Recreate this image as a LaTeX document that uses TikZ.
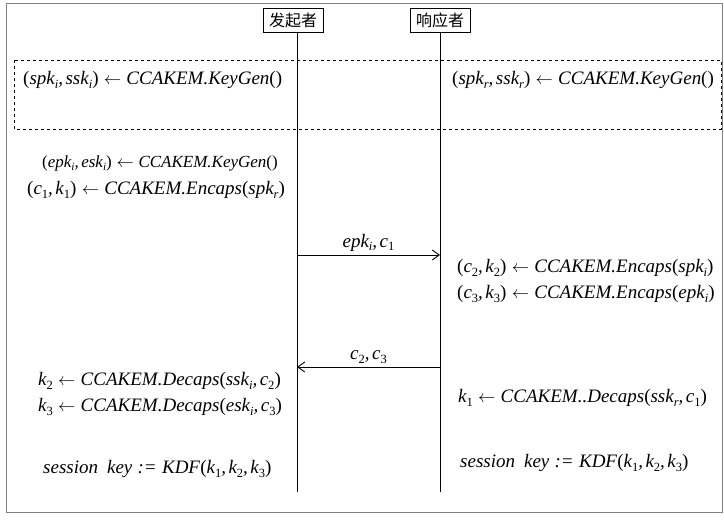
\documentclass[tikz,border=0pt]{standalone}
\usepackage{fontspec}
\setmainfont{Liberation Serif}
\newfontfamily\cjk{Noto Sans CJK SC}
\usetikzlibrary{arrows.meta}
\newcommand\lsub[1]{\raisebox{-0.4ex}{\fontsize{0.66\dimexpr\fsz\relax}{10}\selectfont#1}}
\newcommand\usub[1]{\lsub{\upshape#1}}
\newcommand\arr{\;$\leftarrow$\;}
\newcommand\lp{\textup{(}}
\newcommand\rp{\textup{)}}
\newcommand\cm{,\kern2.5pt}
\def\fsz{19pt}
\tikzset{
  actor/.style={draw,line width=0.9pt,inner xsep=6pt,inner ysep=0pt,minimum height=24pt,font=\cjk\fontsize{16}{18}\selectfont},
  life/.style={line width=1pt},
  msg/.style={line width=0.9pt,-{Straight Barb[length=7pt,width=10pt]}},
  eq/.style={anchor=west,inner sep=0pt,font=\def\fsz{19pt}\fontsize{19}{22}\selectfont\itshape},
  eqs/.style={anchor=west,inner sep=0pt,font=\def\fsz{17pt}\fontsize{17}{20}\selectfont\itshape},
  lbl/.style={anchor=south,inner sep=3pt,font=\def\fsz{19pt}\fontsize{19}{22}\selectfont\itshape}
}
\begin{document}
\begin{tikzpicture}[x=1pt,y=-1pt]
\useasboundingbox (0,0) rectangle (724,520);
\draw[gray,line width=0.8pt] (6,3) rectangle (722,512);
\node[actor] (A) at (293,20) {发起者};
\node[actor] (B) at (440,20) {响应者};
\coordinate (Atop) at (297,32);
\coordinate (Btop) at (440,32);
\coordinate (Aend) at (297,492);
\coordinate (Bend) at (440,492);
\draw[life] (Atop) -- (Aend);
\draw[life] (Btop) -- (Bend);
\draw[dashed,line width=0.7pt] (14,60) rectangle (721,129);
\node[eq] (l1) at (23,80) {\lp spk\lsub{i}\cm ssk\lsub{i}\rp\arr CCAKEM.KeyGen\lp\rp};
\node[eq] (r1) at (452,80) {\lp spk\lsub{r}\cm ssk\lsub{r}\rp\arr CCAKEM.KeyGen\lp\rp};
\node[eqs] (l2) at (42,163) {\lp epk\lsub{i}\cm esk\lsub{i}\rp\arr CCAKEM.KeyGen\lp\rp};
\node[eq] (l3) at (27,190) {\lp c\usub{1}\cm k\usub{1}\rp\arr CCAKEM.Encaps\lp spk\lsub{r}\rp};
\coordinate (m1a) at (297,255);
\coordinate (m1b) at (440,255);
\draw[msg] (m1a) -- node[lbl] {epk\lsub{i}\cm c\usub{1}} (m1b);
\node[eq] (r2) at (457,268) {\lp c\usub{2}\cm k\usub{2}\rp\arr CCAKEM.Encaps\lp spk\lsub{i}\rp};
\node[eq] (r3) at (457,294) {\lp c\usub{3}\cm k\usub{3}\rp\arr CCAKEM.Encaps\lp epk\lsub{i}\rp};
\coordinate (m2a) at (440,367);
\coordinate (m2b) at (297,367);
\draw[msg] (m2a) -- node[lbl] {c\usub{2}\cm c\usub{3}} (m2b);
\node[eq] (l4) at (38,381) {k\usub{2}\arr CCAKEM.Decaps\lp ssk\lsub{i}\cm c\usub{2}\rp};
\node[eq] (l5) at (38,407) {k\usub{3}\arr CCAKEM.Decaps\lp esk\lsub{i}\cm c\usub{3}\rp};
\node[eq] (r4) at (458,398) {k\usub{1}\arr CCAKEM..Decaps\lp ssk\lsub{r}\cm c\usub{1}\rp};
\node[eq] (l6) at (43,469) {session\hspace{9pt}key\;:=\;KDF\lp k\usub{1}\cm k\usub{2}\cm k\usub{3}\rp};
\node[eq] (r5) at (460,463) {session\hspace{9pt}key\;:=\;KDF\lp k\usub{1}\cm k\usub{2}\cm k\usub{3}\rp};
\end{tikzpicture}
\end{document}
